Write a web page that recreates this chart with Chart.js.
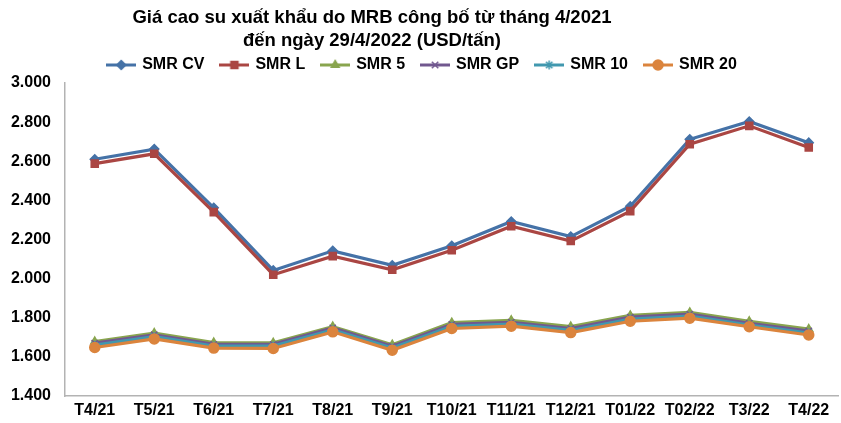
<!DOCTYPE html>
<html>
<head>
<meta charset="utf-8">
<script src="https://cdn.jsdelivr.net/npm/chart.js@4.4.1/dist/chart.umd.min.js"></script>
<style>
  html, body { margin: 0; padding: 0; background: #fff; overflow: hidden; }
  #wrap { position: relative; width: 845px; height: 423px; }
</style>
</head>
<body>
<div id="wrap"><canvas id="chart"></canvas></div>
<script>
const months = ['T4/21', 'T5/21', 'T6/21', 'T7/21', 'T8/21', 'T9/21', 'T10/21',
                'T11/21', 'T12/21', 'T01/22', 'T02/22', 'T3/22', 'T4/22'];

// USD/tấn
const smrCV = [2610, 2662, 2362, 2042, 2142, 2068, 2168, 2292, 2215, 2370, 2712, 2803, 2695];
const smrL  = [2588, 2638, 2340, 2020, 2115, 2045, 2145, 2268, 2192, 2345, 2687, 2781, 2670];
const smr5  = [1678, 1722, 1673, 1672, 1755, 1662, 1775, 1787, 1755, 1812, 1827, 1782, 1742];
const smrGP = [1670, 1713, 1664, 1664, 1748, 1654, 1766, 1777, 1745, 1803, 1818, 1772, 1732];
const smr10 = [1660, 1703, 1655, 1655, 1738, 1645, 1756, 1767, 1735, 1793, 1808, 1762, 1722];
const smr20 = [1648, 1692, 1645, 1643, 1728, 1634, 1745, 1757, 1724, 1782, 1798, 1754, 1712];

const yMin = 1400, yMax = 3000, yStep = 200;

const titleLines = ['Giá cao su xuất khẩu do MRB công bố từ tháng 4/2021',
                    'đến ngày 29/4/2022 (USD/tấn)'];

const FONT = '"Liberation Sans", Arial, Helvetica, sans-serif';
Chart.defaults.font.family = FONT;
Chart.defaults.color = '#000';

const series = [
  { label: 'SMR CV', data: smrCV, color: '#4572A7', style: 'rectRot',  r: 4.5 },
  { label: 'SMR L',  data: smrL,  color: '#AA4643', style: 'rect',     r: 5 },
  { label: 'SMR 5',  data: smr5,  color: '#89A54E', style: 'triangle', r: 4.5 },
  { label: 'SMR GP', data: smrGP, color: '#71588F', style: 'crossRot', r: 4.5 },
  { label: 'SMR 10', data: smr10, color: '#4198AF', style: 'star',     r: 4.5 },
  { label: 'SMR 20', data: smr20, color: '#DB843D', style: 'circle',   r: 5 }
];

// legend icon: short line with the marker in the middle
function makeIcon(s) {
  const c = document.createElement('canvas');
  c.width = 30; c.height = 14;
  const ctx = c.getContext('2d');
  ctx.strokeStyle = s.color;
  ctx.fillStyle = s.color;
  ctx.lineWidth = 3;
  ctx.beginPath();
  ctx.moveTo(0, 7); ctx.lineTo(30, 7);
  ctx.stroke();
  ctx.lineWidth = 1.5;
  Chart.helpers.drawPoint(ctx, { pointStyle: s.style, radius: s.r, rotation: 0, borderWidth: 1.5 }, 15, 7);
  return c;
}
const icons = series.map(makeIcon);

const fmt = v => String(v).replace(/\B(?=(\d{3})+$)/, '.');

const titleText = {
  id: 'titleText',
  afterDraw(chart) {
    const ctx = chart.ctx;
    ctx.save();
    ctx.font = 'bold 18.5px ' + FONT;
    ctx.fillStyle = '#000';
    ctx.textAlign = 'center';
    ctx.textBaseline = 'middle';
    ctx.fillText(titleLines[0], 372, 18);
    ctx.fillText(titleLines[1], 372, 41);
    ctx.restore();
  }
};

new Chart(document.getElementById('chart'), {
  type: 'line',
  data: {
    labels: months,
    datasets: series.map((s, i) => ({
      label: s.label,
      data: s.data,
      borderColor: s.color,
      backgroundColor: s.color,
      borderWidth: 3.2,
      tension: 0,
      pointStyle: s.style,
      pointRadius: s.r,
      pointBorderWidth: 1.5,
      pointBackgroundColor: s.color,
      pointBorderColor: s.color,
      order: series.length - i
    }))
  },
  options: {
    responsive: true,
    maintainAspectRatio: false,
    animation: false,
    layout: { padding: { top: 40, left: 0, right: 0, bottom: 0 } },
    plugins: {
      tooltip: { enabled: false },
      legend: {
        position: 'top',
        labels: {
          usePointStyle: true,
          pointStyleWidth: 26,
          padding: 17,
          font: { size: 16, weight: 'bold' },
          color: '#000',
          sort: (a, b) => a.datasetIndex - b.datasetIndex,
          generateLabels(chart) {
            return Chart.defaults.plugins.legend.labels.generateLabels(chart)
              .map(l => Object.assign(l, { pointStyle: icons[l.datasetIndex] }));
          }
        }
      }
    },
    scales: {
      x: {
        offset: true,
        grid: { display: false, drawTicks: false },
        border: { display: true, color: '#b3b3b3', width: 1.5 },
        ticks: { padding: 5, maxRotation: 0, autoSkip: false, font: { size: 16, weight: 'bold' }, color: '#000' },
        afterFit: s => { s.height = 27; }
      },
      y: {
        min: yMin,
        max: yMax,
        grid: { display: false, drawTicks: false },
        border: { display: true, color: '#b3b3b3', width: 1.5 },
        ticks: {
          stepSize: yStep,
          padding: 14,
          font: { size: 16, weight: 'bold' },
          color: '#000',
          callback: v => fmt(v)
        },
        afterFit: s => { s.width = 65; }
      }
    }
  },
  plugins: [titleText]
});
</script>
</body>
</html>
